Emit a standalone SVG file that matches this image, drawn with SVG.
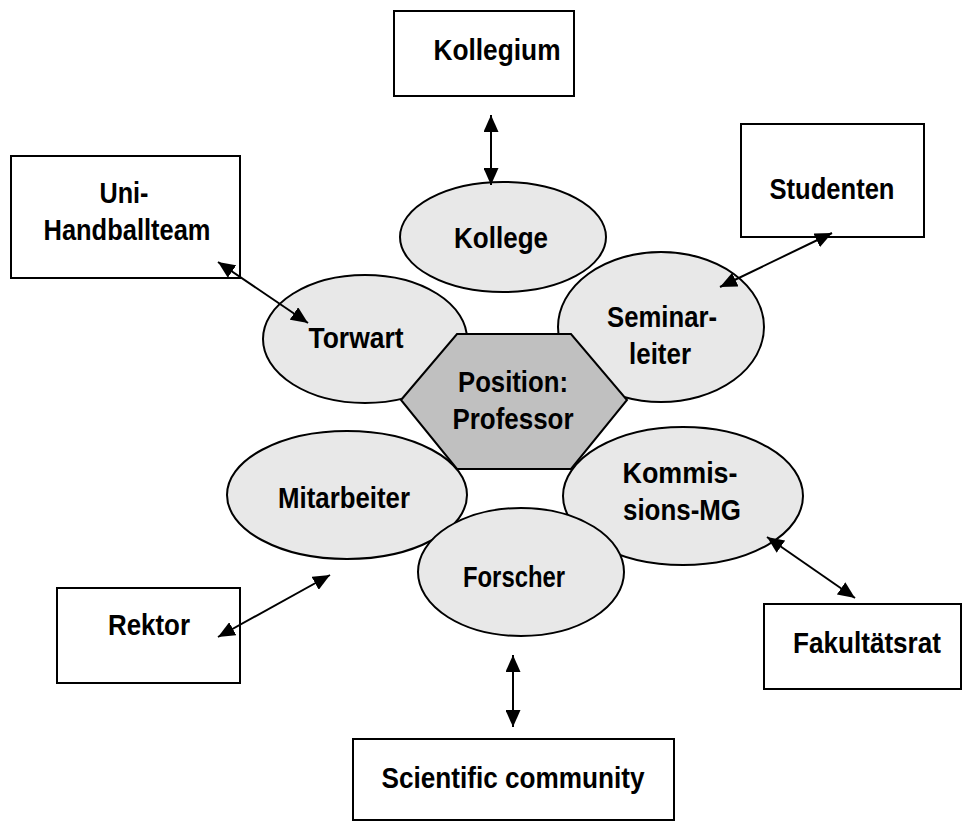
<svg xmlns="http://www.w3.org/2000/svg" width="962" height="823" viewBox="0 0 962 823">
  <style>
    .box { fill: #ffffff; stroke: #000000; stroke-width: 2; }
    .role { fill: #e8e8e8; stroke: #000000; stroke-width: 2; }
    .pos { fill: #c0c0c0; stroke: #000000; stroke-width: 2; }
    .lbl { font-family: "Liberation Sans Narrow", "Liberation Sans", Arial, sans-serif; font-weight: bold; font-size: 30px; fill: #000000; text-anchor: middle; }
    .link { stroke: #000000; stroke-width: 2; fill: none; marker-start: url(#head); marker-end: url(#head); }
  </style>
  <defs>
    <marker id="head" markerUnits="userSpaceOnUse" markerWidth="17" markerHeight="15" refX="17" refY="7.5" orient="auto-start-reverse">
      <path d="M0,0 L17,7.5 L0,15 Z" fill="#000000"/>
    </marker>
  </defs>

  <rect width="962" height="823" fill="#ffffff"/>

  <!-- reference groups (boxes) -->
  <g id="kollegium">
    <rect class="box" x="394" y="11" width="180" height="85"/>
    <text class="lbl" x="497" y="60" textLength="127" lengthAdjust="spacingAndGlyphs">Kollegium</text>
  </g>
  <g id="handballteam">
    <rect class="box" x="11" y="156" width="229" height="122"/>
    <text class="lbl" x="124" y="203" textLength="49" lengthAdjust="spacingAndGlyphs">Uni-</text>
    <text class="lbl" x="127" y="240" textLength="167" lengthAdjust="spacingAndGlyphs">Handballteam</text>
  </g>
  <g id="studenten">
    <rect class="box" x="741" y="124" width="183" height="113"/>
    <text class="lbl" x="832" y="199" textLength="125" lengthAdjust="spacingAndGlyphs">Studenten</text>
  </g>
  <g id="rektor">
    <rect class="box" x="57" y="588" width="183" height="95"/>
    <text class="lbl" x="149" y="635" textLength="82" lengthAdjust="spacingAndGlyphs">Rektor</text>
  </g>
  <g id="fakultaetsrat">
    <rect class="box" x="764" y="604" width="197" height="85"/>
    <text class="lbl" x="867" y="653" textLength="148" lengthAdjust="spacingAndGlyphs">Fakultätsrat</text>
  </g>
  <g id="scientific-community">
    <rect class="box" x="353" y="739" width="321" height="81"/>
    <text class="lbl" x="513" y="788" textLength="263" lengthAdjust="spacingAndGlyphs">Scientific community</text>
  </g>

  <!-- roles around the position -->
  <g id="torwart">
    <ellipse class="role" cx="365" cy="339" rx="102" ry="64"/>
  </g>
  <g id="kollege">
    <ellipse class="role" cx="503" cy="237" rx="103" ry="55"/>
  </g>
  <g id="seminarleiter">
    <ellipse class="role" cx="661" cy="327" rx="103" ry="75"/>
  </g>
  <g id="mitarbeiter">
    <ellipse class="role" cx="347" cy="495" rx="120" ry="64"/>
  </g>
  <g id="kommissions-mg">
    <ellipse class="role" cx="683" cy="496" rx="120" ry="69"/>
  </g>
  <g id="forscher">
    <ellipse class="role" cx="521" cy="572" rx="103" ry="64"/>
  </g>
  <g id="position">
    <polygon class="pos" points="401,400 457,334 571,334 627,400 571,469 457,469"/>
  </g>

  <!-- role labels -->
  <g id="role-labels">
    <text class="lbl" x="356" y="348" textLength="95" lengthAdjust="spacingAndGlyphs">Torwart</text>
    <text class="lbl" x="501" y="248" textLength="94" lengthAdjust="spacingAndGlyphs">Kollege</text>
    <text class="lbl" x="662" y="327" textLength="110" lengthAdjust="spacingAndGlyphs">Seminar-</text>
    <text class="lbl" x="660" y="364" textLength="62" lengthAdjust="spacingAndGlyphs">leiter</text>
    <text class="lbl" x="344" y="508" textLength="132" lengthAdjust="spacingAndGlyphs">Mitarbeiter</text>
    <text class="lbl" x="680" y="483" textLength="115" lengthAdjust="spacingAndGlyphs">Kommis-</text>
    <text class="lbl" x="682" y="520" textLength="118" lengthAdjust="spacingAndGlyphs">sions-MG</text>
    <text class="lbl" x="514" y="587" textLength="102" lengthAdjust="spacingAndGlyphs">Forscher</text>
    <text class="lbl" x="513" y="392" textLength="110" lengthAdjust="spacingAndGlyphs">Position:</text>
    <text class="lbl" x="513" y="429" textLength="121" lengthAdjust="spacingAndGlyphs">Professor</text>
  </g>

  <!-- two-way connectors -->
  <g id="connectors">
    <line class="link" x1="491" y1="115" x2="491" y2="185"/>
    <line class="link" x1="218" y1="262" x2="308" y2="323"/>
    <line class="link" x1="832" y1="233" x2="720" y2="287"/>
    <line class="link" x1="218" y1="637" x2="330" y2="575"/>
    <line class="link" x1="767" y1="537" x2="855" y2="598"/>
    <line class="link" x1="513" y1="655" x2="513" y2="727"/>
  </g>
</svg>
